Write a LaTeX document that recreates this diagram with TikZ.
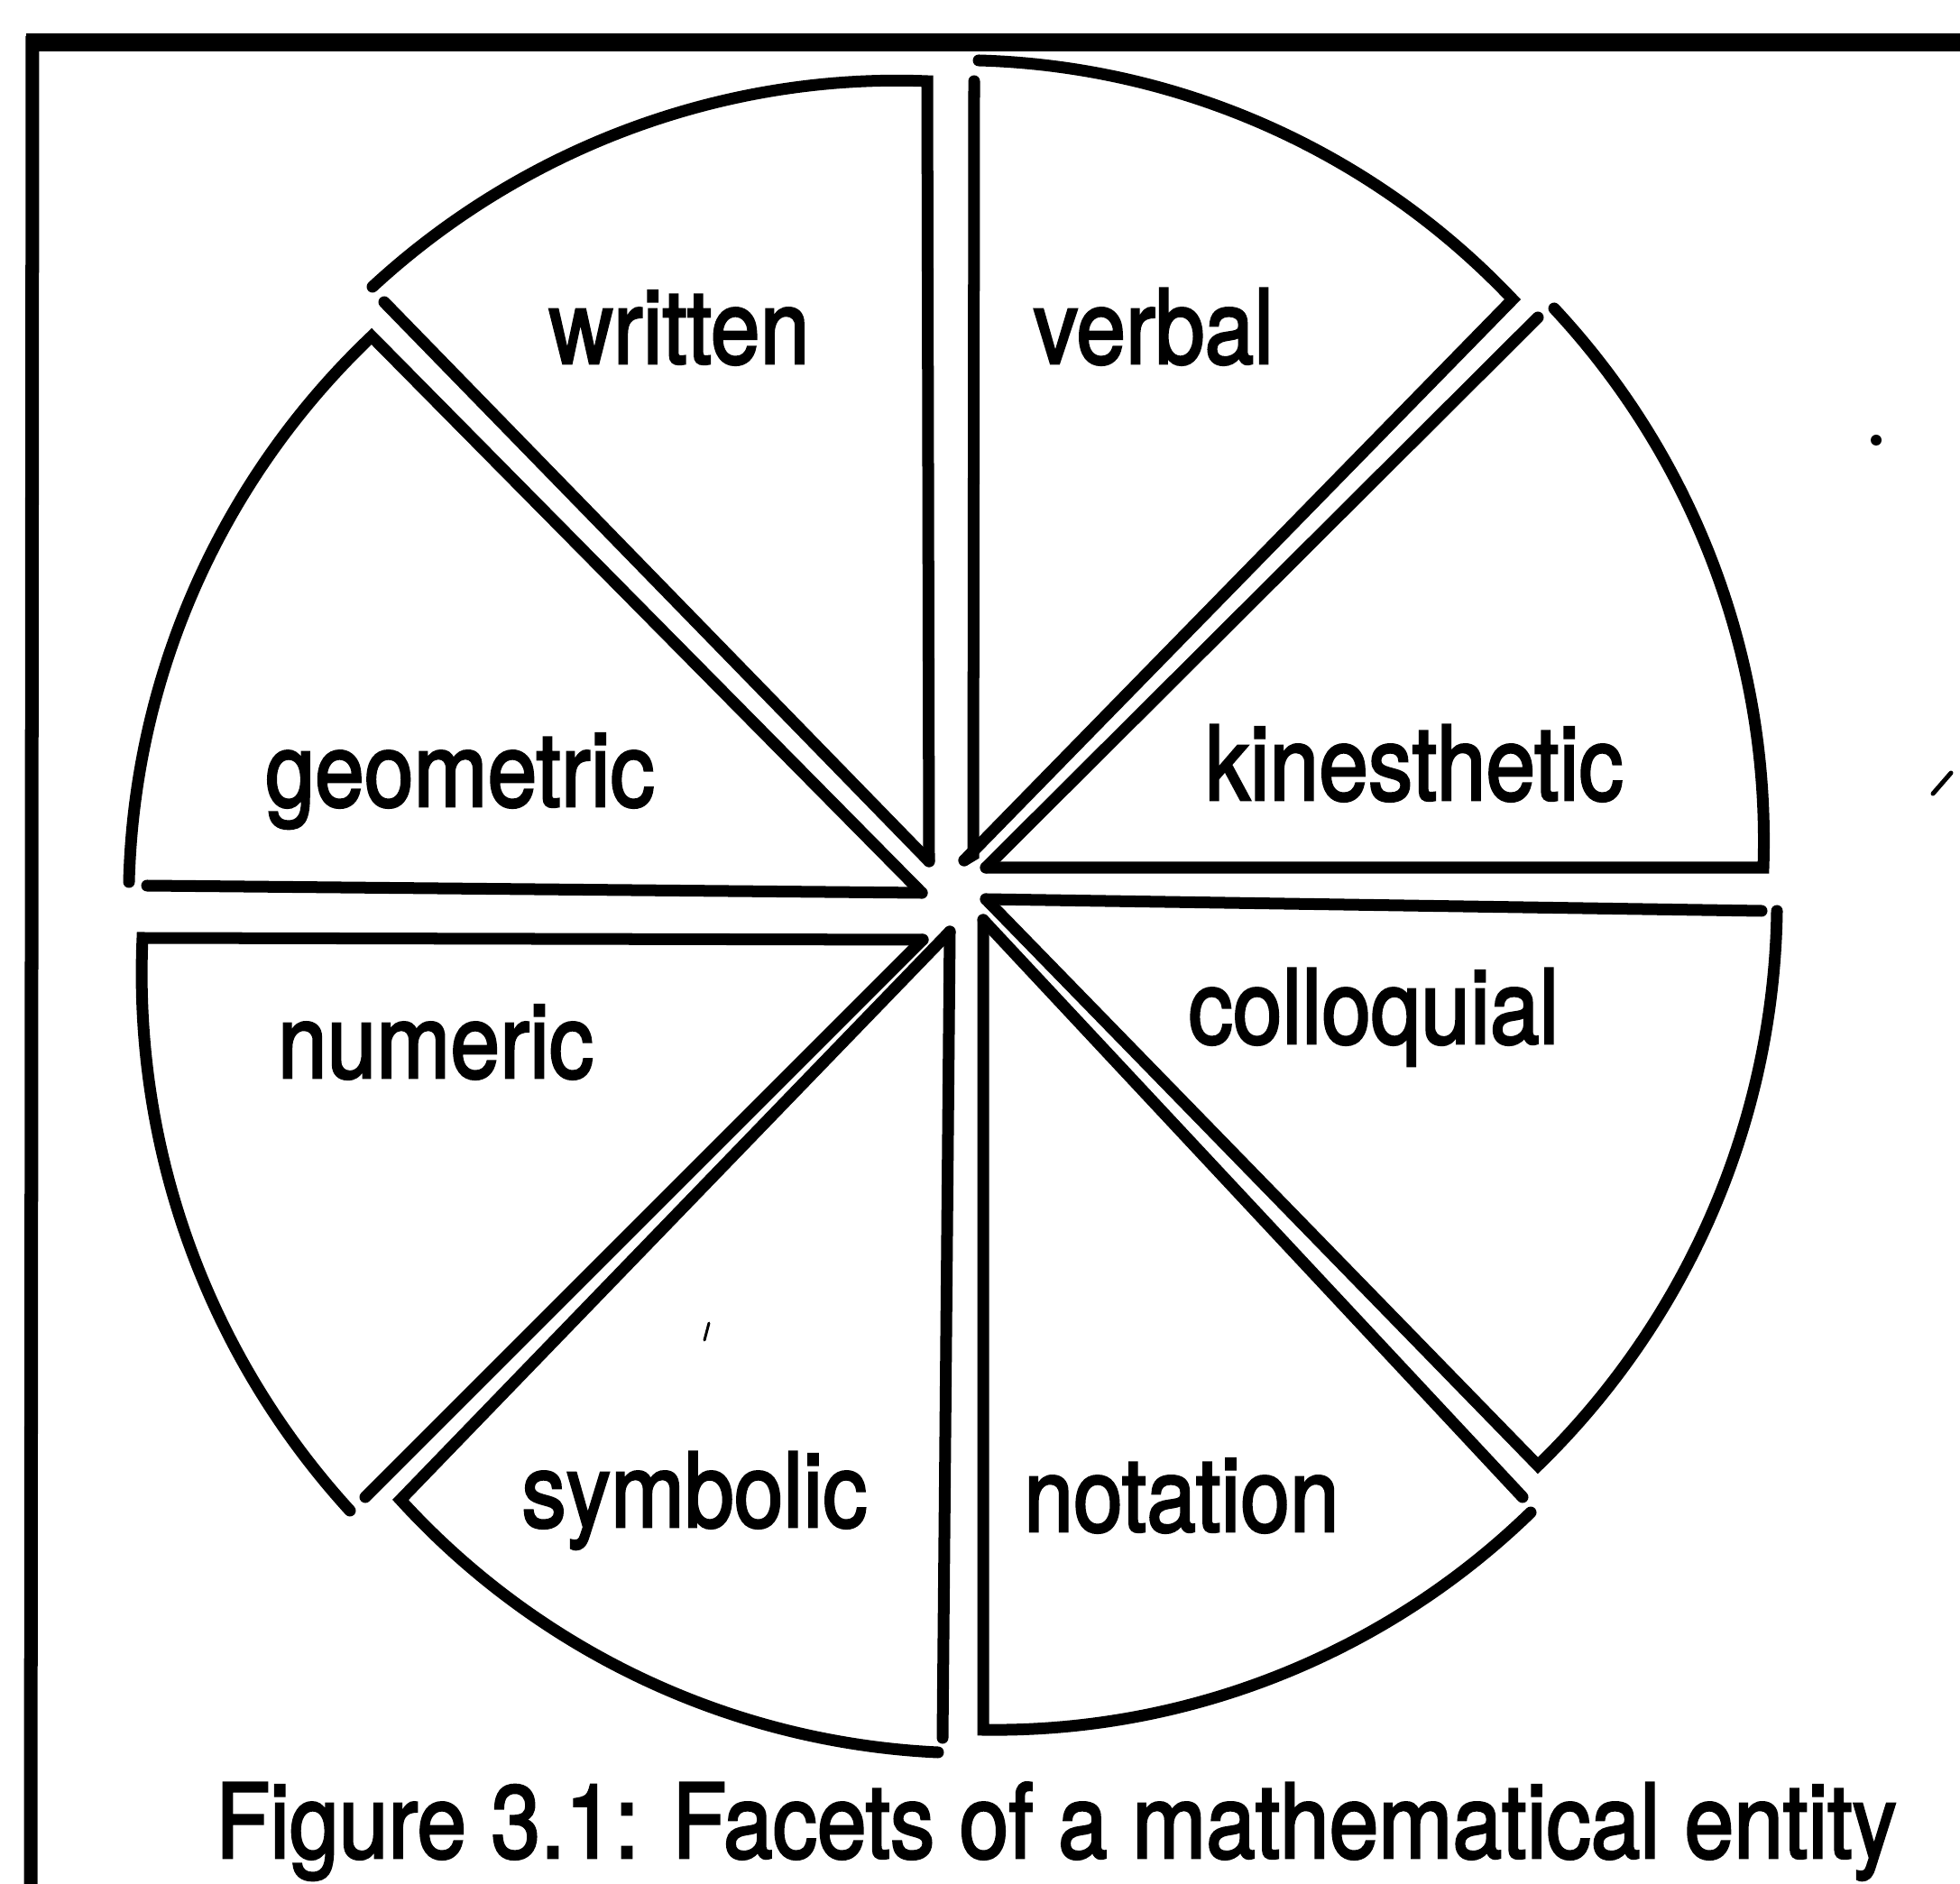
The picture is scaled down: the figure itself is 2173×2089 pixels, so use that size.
\documentclass[tikz,border=0pt]{standalone}
\usepackage{fontspec}
\setmainfont{TeX Gyre Heros}
\newfontfamily\scanfont{TeX Gyre Heros}[FakeBold=2.5]
\begin{document}
\begin{tikzpicture}[x=0.01cm,y=-0.01cm,
  sector/.style={line width=0.13cm,line cap=round,line join=miter},
  framestroke/.style={line width=#1},
  lbl/.style={anchor=base,inner sep=0pt,font=\scanfont\fontsize{28}{34}\selectfont}]
\useasboundingbox (0,0) rectangle (2173,2089);
% frame
\draw[framestroke=0.2cm] (29,47) -- (2200,47);
\draw[framestroke=0.15cm] (36,40) -- (34,2100);
% written
\draw[sector] (1030,955) -- (1028,90) .. controls (803.7,80.9) and (580.9,162.9) .. (413,318);
\draw[sector] (426,335) -- (1030,955);
% verbal
\draw[sector] (1069,954) -- (1079,948) -- (1080,90);
\draw[sector] (1085,67) .. controls (1309.6,73.3) and (1522.6,168.7) .. (1677,332) -- (1069,954);
% kinesthetic
\draw[sector] (1705,352) -- (1093,962);
\draw[sector] (1723,342) .. controls (1879.5,509.7) and (1962.9,732.7) .. (1955,962) -- (1093,962);
% colloquial
\draw[sector] (1093,997) -- (1953,1010);
\draw[sector] (1970,1010) .. controls (1966.7,1242.0) and (1871.3,1463.2) .. (1705,1625) -- (1093,997);
% notation
\draw[sector] (1090,1020) -- (1688,1660);
\draw[sector] (1697,1677) .. controls (1534.7,1834.6) and (1316.3,1921.4) .. (1090,1918) -- (1090,1020);
% symbolic
\draw[sector] (1053,1033) -- (1045,1927);
\draw[sector] (1040,1943) .. controls (812.1,1932.4) and (597.7,1831.6) .. (444,1663) -- (1053,1033);
% numeric
\draw[sector] (1023,1042) -- (405,1660);
\draw[sector] (388,1675) .. controls (230.2,1502.2) and (147.4,1273.8) .. (158,1040) -- (1023,1042);
% geometric
\draw[sector] (1022,990) -- (163,982);
\draw[sector] (143,978) .. controls (148.9,748.6) and (245.7,531.0) .. (412,373) -- (1022,990);
% labels
\node[lbl] (written) at (753,403) {\scalebox{1}[1.16]{written}};
\node[lbl] (verbal) at (1279,403) {\scalebox{1}[1.16]{verbal}};
\node[lbl] (kinesthetic) at (1568,887) {\scalebox{1}[1.16]{kinesthetic}};
\node[lbl] (geometric) at (510,894) {\scalebox{1}[1.16]{geometric}};
\node[lbl] (colloquial) at (1523,1157) {\scalebox{1}[1.16]{colloquial}};
\node[lbl] (numeric) at (483,1195) {\scalebox{1}[1.16]{numeric}};
\node[lbl] (symbolic) at (770,1693) {\scalebox{1}[1.16]{symbolic}};
\node[lbl] (notation) at (1310,1698) {\scalebox{1}[1.16]{notation}};
\node[lbl] (caption) at (1171,2060) {\scalebox{1}[1.16]{Figure 3.1: Facets of a mathematical entity}};
% stray marks of the scan
\fill (2080,488) circle (6);
\draw[line width=0.05cm,line cap=round] (2143,880) -- (2163,857);
\draw[line width=0.03cm,line cap=round] (781,1486) -- (786,1467);
\end{tikzpicture}
\end{document}
